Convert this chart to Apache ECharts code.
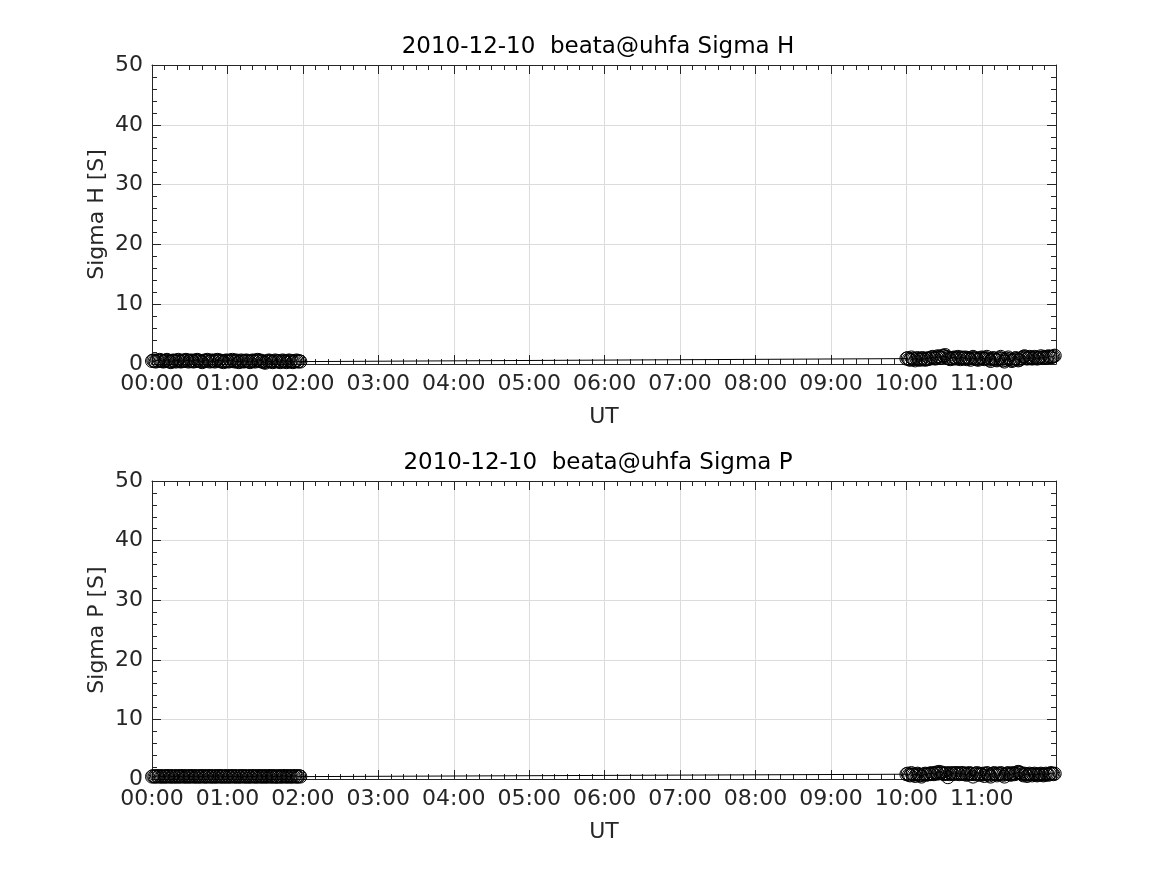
<!DOCTYPE html>
<html>
<head>
<meta charset="utf-8">
<script src="https://cdn.jsdelivr.net/npm/echarts@6/dist/echarts.min.js"></script>
<style>
html,body{margin:0;padding:0;background:#fff;}
#chart{width:1167px;height:875px;}
</style>
</head>
<body>
<div id="chart"></div>
<script>
// Time in minutes after 00:00 UT
const timesBlock1 = [0,1,2,3,4,5,6,7,8,9,10,11,12,13,14,15,16,17,18,19,20,21,22,23,24,25,26,27,28,29,30,31,32,33,34,35,36,37,38,39,40,41,42,43,44,45,46,47,48,49,50,51,52,53,54,55,56,57,58,59,60,61,62,63,64,65,66,67,68,69,70,71,72,73,74,75,76,77,78,79,80,81,82,83,84,85,86,87,88,89,90,91,92,93,94,95,96,97,98,99,100,101,102,103,104,105,106,107,108,109,110,111,112,113,114,115,116,117,118];
const timesBlock2 = [600,601,602,603,604,605,606,607,608,609,610,611,612,613,614,615,616,617,618,619,620,621,622,623,624,625,626,627,628,629,630,631,632,633,634,635,636,637,638,639,640,641,642,643,644,645,646,647,648,649,650,651,652,653,654,655,656,657,658,659,660,661,662,663,664,665,666,667,668,669,670,671,672,673,674,675,676,677,678,679,680,681,682,683,684,685,686,687,688,689,690,691,692,693,694,695,696,697,698,699,700,701,702,703,704,705,706,707,708,709,710,711,712,713,714,715,716,717,718];

const sigmaH1 = [
0.5,0.6,0.5,0.4,0.6,0.5,0.7,0.6,0.5,0.4,0.5,0.6,0.7,0.5,0.4,0.3,0.5,0.6,0.5,0.4,
0.6,0.7,0.5,0.4,0.5,0.6,0.5,0.7,0.6,0.4,0.5,0.6,0.5,0.4,0.6,0.5,0.7,0.6,0.5,0.4,
0.3,0.5,0.6,0.5,0.7,0.6,0.4,0.5,0.6,0.5,0.4,0.6,0.7,0.5,0.6,0.4,0.5,0.3,0.5,0.6,
0.5,0.4,0.6,0.5,0.7,0.5,0.4,0.6,0.5,0.3,0.4,0.6,0.5,0.4,0.5,0.6,0.5,0.4,0.3,0.5,
0.6,0.5,0.4,0.6,0.7,0.5,0.6,0.4,0.5,0.3,0.2,0.4,0.5,0.6,0.4,0.5,0.3,0.4,0.6,0.5,
0.4,0.5,0.3,0.4,0.6,0.5,0.4,0.3,0.5,0.6,0.4,0.5,0.3,0.4,0.5,0.6,0.4,0.5,0.4];
const sigmaH2 = [
0.9,1.0,0.8,0.7,1.1,0.9,0.8,0.6,0.9,1.0,0.8,0.7,0.9,1.0,0.8,0.7,0.9,0.8,1.0,0.9,
1.1,1.2,1.0,0.9,1.1,1.3,1.2,1.0,1.1,1.4,1.3,1.5,1.2,1.0,0.9,0.8,1.0,0.9,1.1,1.0,
0.9,1.2,1.0,0.8,1.1,0.9,1.0,1.1,0.8,1.0,0.9,0.7,1.0,1.2,0.9,1.0,0.8,0.7,0.9,1.0,
1.1,0.9,0.8,1.0,1.2,0.9,0.7,0.5,0.8,1.0,0.9,0.7,0.6,0.8,1.0,1.2,0.9,0.6,0.4,0.7,
0.9,1.1,0.8,0.6,0.5,0.7,0.9,1.0,0.8,0.6,0.7,0.9,1.0,1.2,1.3,1.1,0.9,1.0,1.2,1.1,
0.9,1.0,1.2,1.1,0.9,1.0,1.1,1.3,1.0,1.1,1.2,1.0,1.1,1.3,1.2,1.1,1.2,1.3,1.4];
const sigmaP1 = [
0.4,0.5,0.4,0.4,0.5,0.4,0.5,0.4,0.4,0.5,0.4,0.4,0.5,0.4,0.5,0.4,0.4,0.5,0.4,0.4,
0.5,0.4,0.4,0.5,0.4,0.5,0.4,0.4,0.5,0.4,0.4,0.5,0.4,0.5,0.4,0.4,0.5,0.4,0.4,0.5,
0.4,0.5,0.4,0.4,0.5,0.4,0.5,0.4,0.4,0.5,0.4,0.4,0.5,0.4,0.5,0.4,0.4,0.5,0.4,0.4,
0.5,0.4,0.4,0.5,0.4,0.5,0.4,0.4,0.5,0.4,0.4,0.5,0.4,0.5,0.4,0.4,0.5,0.4,0.4,0.5,
0.4,0.5,0.4,0.4,0.5,0.4,0.5,0.4,0.4,0.5,0.4,0.4,0.5,0.4,0.5,0.4,0.4,0.5,0.4,0.4,
0.4,0.5,0.4,0.4,0.5,0.4,0.5,0.4,0.4,0.5,0.4,0.4,0.5,0.4,0.5,0.4,0.4,0.5,0.4];
const sigmaP2 = [
0.8,0.9,0.7,0.6,1.0,0.8,0.7,0.5,0.8,0.9,0.7,0.6,0.4,0.7,0.8,0.9,0.7,0.8,0.9,0.8,
1.0,0.9,0.8,1.0,1.1,0.9,1.2,1.0,1.1,0.9,0.8,0.9,1.0,0.3,0.8,1.0,0.9,0.8,1.0,0.9,
1.0,0.9,0.8,1.0,0.9,1.0,0.8,0.9,0.7,0.9,1.0,0.8,0.9,0.4,0.8,0.9,1.0,0.7,0.9,0.8,
0.7,0.9,0.5,0.8,1.0,0.9,0.6,0.4,0.8,0.9,1.0,0.8,0.6,0.9,0.8,1.0,0.9,0.7,0.4,0.8,
0.9,1.0,0.8,0.7,0.9,1.0,0.8,0.9,1.1,1.2,1.1,1.0,0.8,0.6,0.9,0.8,0.5,0.7,0.9,0.8,
0.6,0.8,0.9,0.7,0.6,0.8,0.7,0.9,0.8,0.6,0.7,0.9,0.8,0.7,0.9,1.0,0.9,0.8,0.9];

const titles = ['2010-12-10  beata@uhfa Sigma H', '2010-12-10  beata@uhfa Sigma P'];
const yNames = ['Sigma H [S]', 'Sigma P [S]'];
const xName = 'UT';
const xMin = 0, xMax = 719, xInterval = 60;
const yMin = 0, yMax = 50, yInterval = 10;

function pairs(t, v) { return t.map((x, i) => [x, v[i]]); }
const dataH = pairs(timesBlock1, sigmaH1).concat(pairs(timesBlock2, sigmaH2));
const dataP = pairs(timesBlock1, sigmaP1).concat(pairs(timesBlock2, sigmaP2));

const TXT = '#262626';
const FONT = 'DejaVu Sans';
function fmt(v) {
  if (v % 60 !== 0) return '';
  const h = Math.floor(v / 60);
  return (h < 10 ? '0' : '') + h + ':00';
}
const grids = [
  {left: 152, top: 65, width: 904, height: 299},
  {left: 152, top: 481, width: 904, height: 298}
];
const xAxes = [], yAxes = [], series = [], titleArr = [];
[dataH, dataP].forEach((d, g) => {
  const common = {
    gridIndex: g, type: 'value', min: xMin, max: xMax, interval: xInterval,
    axisLine: {show: true, onZero: false, lineStyle: {color: TXT, width: 1}},
    axisTick: {show: true, inside: true, length: 9, lineStyle: {color: TXT}},
    minorTick: {show: true, splitNumber: 6, length: 5, lineStyle: {color: TXT}},
  };
  xAxes.push(Object.assign({}, common, {
    position: 'bottom',
    name: xName, nameLocation: 'middle', nameGap: 42,
    nameTextStyle: {color: TXT, fontFamily: FONT, fontSize: 22},
    axisLabel: {color: TXT, fontFamily: FONT, fontSize: 22, margin: 9, formatter: fmt, showMaxLabel: false},
    splitLine: {show: true, lineStyle: {color: '#dcdcdc', width: 1}}
  }));
  xAxes.push(Object.assign({}, common, {
    position: 'top', axisLabel: {show: false}, splitLine: {show: false}
  }));
  const ycommon = {
    gridIndex: g, type: 'value', min: yMin, max: yMax, interval: yInterval,
    axisLine: {show: true, onZero: false, lineStyle: {color: TXT, width: 1}},
    axisTick: {show: true, inside: true, length: 9, lineStyle: {color: TXT}},
    minorTick: {show: true, splitNumber: 5, length: 5, lineStyle: {color: TXT}},
  };
  yAxes.push(Object.assign({}, ycommon, {
    position: 'left',
    name: yNames[g], nameLocation: 'middle', nameGap: 44, nameMoveOverlap: false,
    nameTextStyle: {color: TXT, fontFamily: FONT, fontSize: 22},
    axisLabel: {color: TXT, fontFamily: FONT, fontSize: 22, margin: 9},
    splitLine: {show: true, lineStyle: {color: '#dcdcdc', width: 1}}
  }));
  yAxes.push(Object.assign({}, ycommon, {
    position: 'right', axisLabel: {show: false}, splitLine: {show: false}
  }));
  series.push({
    type: 'line', xAxisIndex: g * 2, yAxisIndex: g * 2, data: d,
    symbol: 'circle', symbolSize: 13, showAllSymbol: true, clip: false,
    itemStyle: {color: 'rgba(0,0,0,0)', borderColor: '#000', borderWidth: 1},
    lineStyle: {color: '#000', width: 1},
    animation: false, silent: true
  });
  titleArr.push({
    text: titles[g], left: 593, textAlign: 'center',
    top: g === 0 ? 31 : 447,
    textStyle: {color: '#000', fontFamily: FONT, fontSize: 23, fontWeight: 'normal'}
  });
});

const chart = echarts.init(document.getElementById('chart'), null, {renderer: 'canvas'});
chart.setOption({
  animation: false,
  backgroundColor: '#fff',
  title: titleArr,
  grid: grids,
  xAxis: xAxes,
  yAxis: yAxes,
  series: series
});
</script>
</body>
</html>
